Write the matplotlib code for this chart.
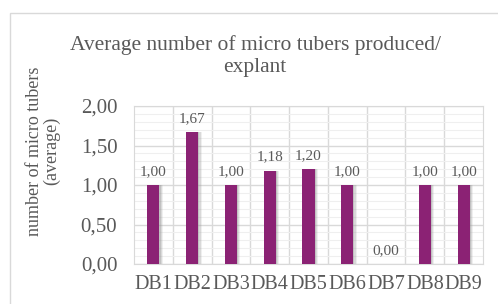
import matplotlib.pyplot as plt
from matplotlib.patches import Rectangle
from matplotlib.ticker import MultipleLocator, FuncFormatter

categories = ['DB1', 'DB2', 'DB3', 'DB4', 'DB5', 'DB6', 'DB7', 'DB8', 'DB9']
values = [1.00, 1.67, 1.00, 1.18, 1.20, 1.00, 0.00, 1.00, 1.00]

plt.rcParams['font.family'] = ['Liberation Serif', 'DejaVu Serif']
grey = '#595959'
bar_color = '#8B2274'

fig = plt.figure(figsize=(4.98, 3.04), dpi=100)
ax = fig.add_axes([134 / 498, 1 - 264 / 304, 349 / 498, 158 / 304])

# chart border
fig.patches.append(Rectangle((10 / 498, -0.1), 1.0, 1 - 13 / 304 + 0.1, transform=fig.transFigure,
                             fill=False, edgecolor='#d9d9d9', linewidth=1))

x = list(range(len(categories)))
# shadow
for k, a in enumerate([0.35, 0.25, 0.15]):
    ax.bar([i + 0.03 * (k + 1) for i in x], values, width=0.31, color='#999999',
           alpha=a, zorder=2, linewidth=0)
bars = ax.bar(x, values, width=0.31, color=bar_color, zorder=3)

for i, v in enumerate(values):
    ax.text(i, v + 0.09, f'{v:.2f}'.replace('.', ','), ha='center', va='bottom',
            fontsize=11, color=grey, zorder=4)

ax.set_xlim(-0.5, len(categories) - 0.5)
ax.set_ylim(0, 2.0)
ax.yaxis.set_major_locator(MultipleLocator(0.5))
ax.yaxis.set_minor_locator(MultipleLocator(0.1))
ax.yaxis.set_major_formatter(FuncFormatter(lambda v, p: f'{v:.2f}'.replace('.', ',')))
ax.set_xticks(x)
ax.set_xticklabels(categories)
ax.set_xticks([i + 0.5 for i in x[:-1]], minor=True)

ax.grid(which='major', axis='y', color='#d9d9d9', linewidth=1.0, zorder=0)
ax.grid(which='minor', axis='y', color='#efefef', linewidth=0.8, zorder=0)
ax.grid(which='minor', axis='x', color='#d9d9d9', linewidth=1.0, zorder=0)
ax.set_axisbelow(True)

for s in ax.spines.values():
    s.set_color('#d9d9d9')

ax.tick_params(axis='both', which='both', length=0, colors=grey)
ax.tick_params(axis='y', labelsize=15, pad=12)
ax.tick_params(axis='x', labelsize=14.5, pad=8)

fig.text(43 / 498, 1 - 151 / 304, 'number of micro tubers\n(average)', rotation=90,
         ha='center', va='center', fontsize=13, color=grey, linespacing=1.05)
fig.text(255 / 498, 1 - 56 / 304, 'Average number of micro tubers produced/\nexplant',
         ha='center', va='center', fontsize=15.5, color=grey, linespacing=1.15)

fig.savefig('out.png', dpi=100)
